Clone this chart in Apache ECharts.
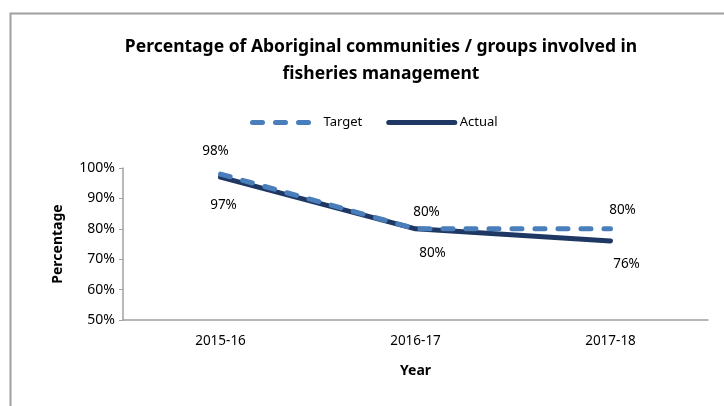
<!DOCTYPE html>
<html><head><meta charset="utf-8">
<script src="https://cdn.jsdelivr.net/npm/echarts@6/dist/echarts.min.js"></script>
<style>html,body{margin:0;padding:0;background:#fff}#c{width:724px;height:406px}</style>
</head><body><div id="c"></div>
<script>
const categories = ['2015-16', '2016-17', '2017-18'];
const targetValues = [98, 80, 80];
const actualValues = [97, 80, 76];
const yTicks = [50, 60, 70, 80, 90, 100];

// label nudges (style only)
const targetLabelOffsets = [[-5, -1], [11, 5], [12, 3]];
const actualLabelOffsets = [[3, 7], [17, 3], [16, 2]];

const FONT = 'Noto Sans';
const withOffsets = (vals, offs) => vals.map((v, i) => ({ value: v, label: { offset: offs[i] } }));

const chart = echarts.init(document.getElementById('c'));
chart.setOption({
  animation: false,
  textStyle: { fontFamily: FONT, color: '#000' },
  graphic: [{
    type: 'rect', left: 8, top: 11, shape: { width: 760, height: 440 },
    style: { fill: 'none', stroke: '#a0a0a0', lineWidth: 2 }, silent: true, z: -1
  }],
  title: {
    text: 'Percentage of Aboriginal communities / groups involved in\nfisheries management',
    left: 376, top: 29, textAlign: 'center',
    textStyle: { fontFamily: FONT, fontWeight: 'bold', fontSize: 17.5, lineHeight: 27, color: '#000' }
  },
  legend: {
    top: 111, left: 245, itemWidth: 66, itemHeight: 8, itemGap: 24,
    textStyle: { fontFamily: FONT, fontSize: 13, color: '#000' },
    lineStyle: { width: 5 },
    data: ['Target', 'Actual']
  },
  grid: { left: 123, right: 16, top: 168, bottom: 86 },
  xAxis: {
    type: 'category', data: categories, boundaryGap: true,
    name: 'Year', nameLocation: 'middle', nameGap: 44,
    nameTextStyle: { fontFamily: FONT, fontWeight: 'bold', fontSize: 14, color: '#000' },
    axisLine: { lineStyle: { color: '#a0a0a0', width: 1.5 } },
    axisTick: { show: false },
    axisLabel: { fontFamily: FONT, fontSize: 13.5, color: '#000', margin: 14 }
  },
  yAxis: {
    type: 'value', min: yTicks[0], max: yTicks[yTicks.length - 1], interval: 10,
    name: 'Percentage', nameLocation: 'middle', nameGap: 58, nameRotate: 90,
    nameTextStyle: { fontFamily: FONT, fontWeight: 'bold', fontSize: 14, color: '#000' },
    axisLine: { show: true, lineStyle: { color: '#a0a0a0', width: 1.5 } },
    axisTick: { show: true, length: 4, lineStyle: { color: '#a0a0a0' } },
    splitLine: { show: false },
    axisLabel: { fontFamily: FONT, fontSize: 14, color: '#000', margin: 8, formatter: v => v + '%' }
  },
  series: [
    {
      name: 'Target', type: 'line', data: withOffsets(targetValues, targetLabelOffsets),
      symbol: 'circle', symbolSize: 1, showSymbol: true, z: 2,
      itemStyle: { color: 'rgba(0,0,0,0)' },
      lineStyle: { color: '#4a7ebb', width: 5, type: [10, 13], cap: 'round' },
      label: { show: true, opacity: 1, position: 'top', distance: 14, fontFamily: FONT, fontSize: 13.5, color: '#000', formatter: p => p.value + '%' }
    },
    {
      name: 'Actual', type: 'line', data: withOffsets(actualValues, actualLabelOffsets),
      symbol: 'circle', symbolSize: 1, showSymbol: true, z: 1,
      itemStyle: { color: 'rgba(0,0,0,0)' },
      lineStyle: { color: '#1f3763', width: 5, cap: 'round' },
      label: { show: true, opacity: 1, position: 'bottom', distance: 14, fontFamily: FONT, fontSize: 13.5, color: '#000', formatter: p => p.value + '%' }
    }
  ]
});
</script></body></html>
